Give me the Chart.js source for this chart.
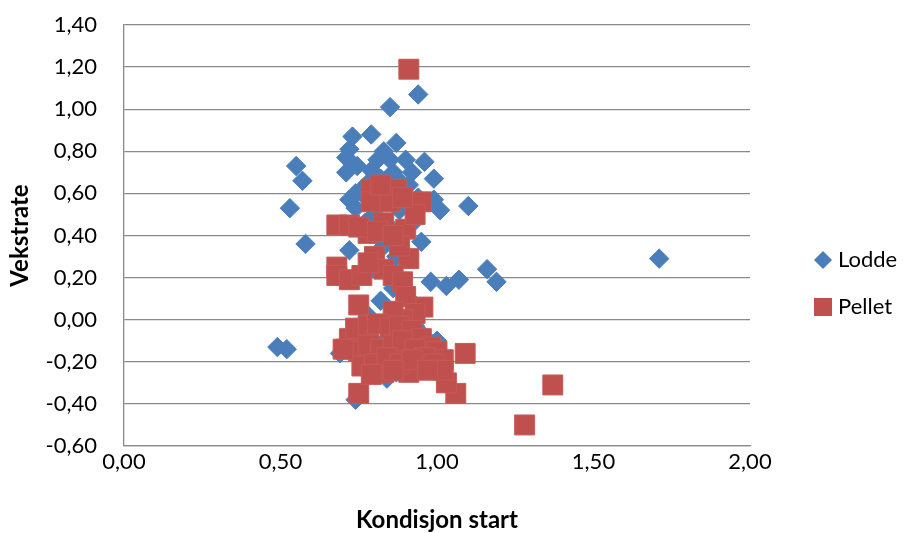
<!DOCTYPE html>
<html>
<head>
<meta charset="utf-8">
<script src="https://cdn.jsdelivr.net/npm/chart.js@4.4.1/dist/chart.umd.min.js"></script>
<style>
  html, body { margin: 0; padding: 0; background: #ffffff; }
  #wrap { width: 904px; height: 533px; position: relative; }
</style>
</head>
<body>
<div id="wrap"><canvas id="c" width="904" height="533"></canvas></div>
<script>
// ---- Data ----
const seriesNames = ['Lodde', 'Pellet'];

const loddeX = [0.49, 0.52, 0.53, 0.55, 0.57, 0.58, 0.69, 0.74, 0.84, 0.72,
                0.72, 0.71, 0.71, 0.72, 0.73, 0.79, 0.85, 0.94, 0.87, 0.96,
                0.99, 0.83, 0.81, 0.85, 0.90, 0.92, 0.79, 0.745, 1.10, 1.01,
                0.95, 1.16, 1.19, 0.98, 1.03, 1.07, 1.71, 0.82, 0.96, 0.87,
                0.91, 0.94, 0.97, 0.76, 0.78, 0.82, 0.86, 0.88, 0.74, 0.80,
                0.88, 0.77, 0.85, 0.93, 0.83, 0.87, 0.79, 0.86, 0.91, 0.78,
                0.93, 0.80, 0.88, 0.75, 1.00, 0.78, 0.74, 0.89, 0.73, 0.99];
const loddeY = [-0.13, -0.14, 0.53, 0.73, 0.66, 0.36, -0.16, -0.38, -0.28, 0.33,
                0.57, 0.70, 0.77, 0.81, 0.87, 0.88, 1.01, 1.07, 0.84, 0.75,
                0.67, 0.80, 0.76, 0.76, 0.76, 0.70, 0.71, 0.73, 0.54, 0.52,
                0.37, 0.24, 0.18, 0.18, 0.16, 0.19, 0.29, 0.09, -0.08, -0.25,
                0.64, 0.58, 0.56, 0.62, 0.57, 0.67, 0.70, 0.66, 0.53, 0.50,
                0.52, 0.46, 0.44, 0.47, 0.35, 0.30, 0.24, 0.15, 0.10, 0.02,
                -0.03, -0.10, -0.15, -0.08, -0.10, 0.65, 0.60, 0.60, 0.74, 0.57];

const pelletX = [0.91, 1.28, 1.37, 1.09, 1.06, 1.03, 0.75, 0.91, 0.83, 0.72,
                 0.68, 0.72, 0.79, 0.87, 0.95, 0.79, 0.85, 0.78, 0.83, 0.90,
                 0.80, 0.91, 0.68, 0.88, 0.68, 0.75, 0.955, 0.75, 0.81, 0.86,
                 0.93, 0.82, 0.89, 0.72, 0.76, 0.83, 0.86, 0.89, 0.78, 0.90,
                 0.93, 0.89, 0.86, 0.74, 0.78, 0.81, 0.85, 0.88, 0.92, 0.95,
                 0.98, 1.00, 1.02, 0.71, 0.75, 0.78, 0.82, 0.86, 0.89, 0.93,
                 0.96, 0.99, 1.02, 0.76, 0.80, 0.84, 0.88, 0.92, 0.97, 0.79,
                 0.86, 0.70];
const pelletY = [1.19, -0.50, -0.31, -0.16, -0.35, -0.30, -0.35, -0.25, -0.25, -0.09,
                 0.45, 0.45, 0.62, 0.62, 0.56, 0.56, 0.56, 0.41, 0.46, 0.43,
                 0.30, 0.29, 0.25, 0.35, 0.21, 0.07, 0.06, 0.44, 0.42, 0.40,
                 0.50, 0.64, 0.58, 0.19, 0.21, 0.24, 0.21, 0.18, 0.27, 0.11,
                 0.03, 0.00, 0.04, -0.04, -0.03, -0.02, -0.04, -0.03, -0.05, -0.09,
                 -0.13, -0.15, -0.19, -0.14, -0.15, -0.12, -0.14, -0.12, -0.10, -0.14,
                 -0.18, -0.21, -0.24, -0.22, -0.21, -0.18, -0.21, -0.19, -0.24, -0.26,
                 -0.24, -0.14];

const xTickValues = [0, 0.5, 1.0, 1.5, 2.0];
const yTickValues = [-0.6, -0.4, -0.2, 0, 0.2, 0.4, 0.6, 0.8, 1.0, 1.2, 1.4];
const xTitle = 'Kondisjon start';
const yTitle = 'Vekstrate';

// ---- Helpers ----
function toPoints(xs, ys) { return xs.map((x, i) => ({ x: x, y: ys[i] })); }
function fmt(v) { if (Math.abs(v) < 1e-9) v = 0; return v.toFixed(2).replace('.', ','); }

const BLUE = '#4a7ebb';
const RED = '#c0504d';

function legendMarker(kind, color) {
  const cv = document.createElement('canvas');
  cv.width = 20; cv.height = 20;
  const g = cv.getContext('2d');
  g.fillStyle = color;
  g.beginPath();
  if (kind === 'diamond') {
    g.moveTo(10, 1); g.lineTo(19, 10); g.lineTo(10, 19); g.lineTo(1, 10);
  } else {
    g.rect(1, 1, 18, 18);
  }
  g.closePath();
  g.fill();
  return cv;
}
const legendImgs = [legendMarker('diamond', BLUE), legendMarker('square', RED)];

const gridColor = '#8a8a8a';

const layoutFix = {
  id: 'layoutFix',
  beforeLayout(chart) {
    const lg = chart.legend;
    if (lg && !lg._fixed) {
      const orig = lg.fit.bind(lg);
      lg.fit = function () { orig(); this.width = 154; };
      lg._fixed = true;
    }
  },
  afterLayout(chart) {
    const lg = chart.legend;
    if (lg) {
      lg.left = 794; lg.right = 904; lg.width = 110;
      lg.top = 224; lg.bottom = 533; lg.height = 309;
    }
  }
};

new Chart(document.getElementById('c'), {
  type: 'scatter',
  data: {
    datasets: [
      {
        label: seriesNames[0],
        data: toPoints(loddeX, loddeY),
        pointStyle: 'rectRot',
        pointRadius: 9.7,
        pointHoverRadius: 9.7,
        backgroundColor: BLUE,
        borderColor: '#4a7ebb',
        borderWidth: 1,
        order: 1
      },
      {
        label: seriesNames[1],
        data: toPoints(pelletX, pelletY),
        pointStyle: 'rect',
        pointRadius: 14.1,
        pointHoverRadius: 14.1,
        backgroundColor: RED,
        borderColor: '#c55a57',
        borderWidth: 1,
        order: 0
      }
    ]
  },
  options: {
    responsive: false,
    animation: false,
    events: [],
    layout: { padding: { left: 0, right: 0, top: 25, bottom: 0 } },
    plugins: {
      tooltip: { enabled: false },
      legend: {
        position: 'right',
        align: 'start',
        labels: {
          usePointStyle: true,
          boxWidth: 8,
          boxHeight: 8,
          padding: 25,
          color: '#000000',
          font: { family: 'Lato', size: 22 },
          generateLabels(chart) {
            return chart.data.datasets.map((ds, i) => ({
              text: ds.label,
              pointStyle: legendImgs[i],
              fillStyle: ds.backgroundColor,
              strokeStyle: ds.backgroundColor,
              lineWidth: 0,
              hidden: false,
              datasetIndex: i,
              fontColor: '#000000'
            }));
          }
        }
      }
    },
    scales: {
      x: {
        type: 'linear',
        min: 0,
        max: 2,
        afterBuildTicks(scale) { scale.ticks = xTickValues.map(v => ({ value: v })); },
        afterFit(scale) { scale.height = 87; scale.paddingLeft = 0; scale.paddingRight = 0; },
        grid: { display: false, drawTicks: false },
        border: { display: true, color: gridColor, width: 1.3 },
        ticks: {
          padding: 3,
          color: '#000000',
          font: { family: 'Lato', size: 22 },
          maxRotation: 0,
          callback: (v) => fmt(v)
        },
        title: {
          display: true,
          text: xTitle,
          color: '#000000',
          font: { family: 'Lato', size: 24, weight: 'bold', lineHeight: 1.0 },
          padding: { top: 0, bottom: 1 }
        }
      },
      y: {
        type: 'linear',
        min: -0.6,
        max: 1.4,
        afterBuildTicks(scale) { scale.ticks = yTickValues.map(v => ({ value: v })); },
        afterFit(scale) { scale.width = 124; scale.paddingTop = 0; scale.paddingBottom = 0; },
        grid: { display: true, drawTicks: false, color: gridColor, lineWidth: 1.3 },
        border: { display: true, color: gridColor, width: 1.3 },
        ticks: {
          padding: 27,
          color: '#000000',
          font: { family: 'Lato', size: 22 },
          callback: (v) => fmt(v)
        },
        title: {
          display: true,
          text: yTitle,
          color: '#000000',
          font: { family: 'Lato', size: 24, weight: 'bold', lineHeight: 1.0 },
          padding: { top: 8, bottom: 0 }
        }
      }
    }
  },
  plugins: [layoutFix]
});
</script>
</body>
</html>
